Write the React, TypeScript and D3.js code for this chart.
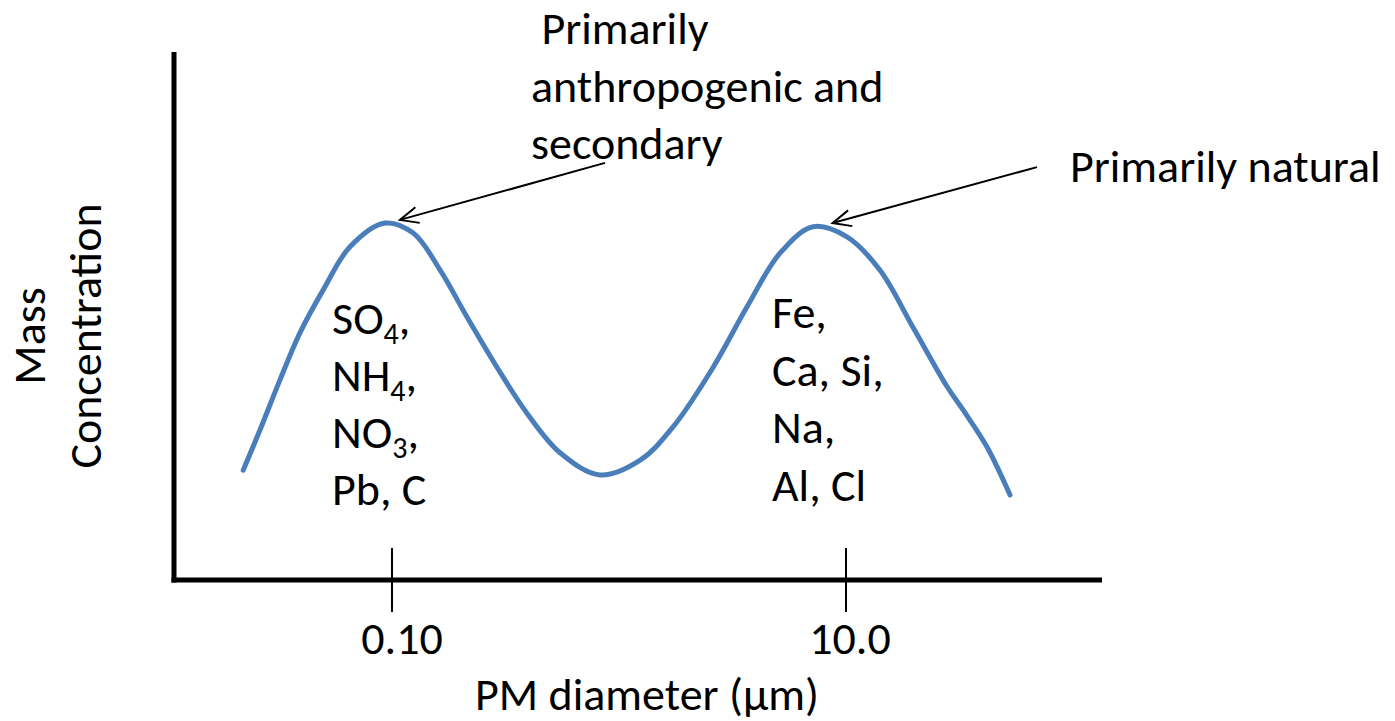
import React, { useEffect, useRef } from 'react';
import * as d3 from 'd3';

// PM diameter (um) and relative mass concentration
const diameters = [
  0.0221, 0.0262, 0.0321, 0.0393, 0.0497, 0.0653, 0.0932, 0.124, 0.163, 0.214,
  0.29, 0.393, 0.55, 0.825, 1.24, 1.73, 2.6, 3.66, 5.12, 7.16, 10.1, 14.1, 19.7,
  27.9, 32.8, 41.8, 52.8,
];
const concentrations = [
  20.8, 28.4, 37.9, 46.8, 54.9, 63.1, 67.6, 65.7, 58.7, 49.8, 40.3, 31.6, 24.1,
  19.9, 22.7, 29.0, 40.3, 51.7, 61.9, 66.9, 65.0, 58.7, 47.9, 36.6, 32.2, 25.2,
  16.1,
];

const tickValues = [0.1, 10];
const tickLabels = ['0.10', '10.0'];

const fineSpecies = [
  { base: 'SO', sub: '4', tail: ',' },
  { base: 'NH', sub: '4', tail: ',' },
  { base: 'NO', sub: '3', tail: ',' },
  { base: 'Pb, C', sub: '', tail: '' },
];
const coarseSpecies = ['Fe,', 'Ca, Si,', 'Na,', 'Al, Cl'];

const fineNote = [' Primarily', 'anthropogenic and', 'secondary'];
const coarseNote = 'Primarily natural';

// arrow start / tip as [diameter, concentration]
const fineArrow = [[0.868, 79.0], [0.1084, 68.2]];
const coarseArrow = [[69.4, 78.2], [8.73, 67.6]];

const FONT = 'Carlito, Calibri, Lato, sans-serif';

const App = () => {
  const ref = useRef<SVGSVGElement>(null);

  useEffect(() => {
    document.body.style.margin = '0';
    draw();
  }, []);

  const draw = () => {
    const svg = d3.select(ref.current);
    svg.selectAll('*').remove();

    const x = d3.scaleLog().domain([0.1, 10]).range([392, 846]);
    const y = d3.scaleLinear().domain([0, 100]).range([580, 52]);

    const left = 174;
    const right = 1102;

    // axes
    svg.append('line')
      .attr('x1', left).attr('x2', left)
      .attr('y1', y(100)).attr('y2', y(0) + 2.5)
      .attr('stroke', '#000').attr('stroke-width', 5);
    svg.append('line')
      .attr('x1', left - 2.5).attr('x2', right)
      .attr('y1', y(0)).attr('y2', y(0))
      .attr('stroke', '#000').attr('stroke-width', 5);

    tickValues.forEach((v, i) => {
      svg.append('line')
        .attr('x1', x(v)).attr('x2', x(v))
        .attr('y1', y(0) - 32).attr('y2', y(0) + 32)
        .attr('stroke', '#000').attr('stroke-width', 2);
      svg.append('text')
        .attr('x', x(v) + (i === 0 ? 10 : 4))
        .attr('y', 654)
        .attr('text-anchor', 'middle')
        .attr('font-family', FONT)
        .attr('font-size', 46)
        .text(tickLabels[i]);
    });

    svg.append('text')
      .attr('x', 647).attr('y', 710)
      .attr('text-anchor', 'middle')
      .attr('font-family', FONT).attr('font-size', 46)
      .text('PM diameter (\u03bcm)');

    const yl = svg.append('g').attr('transform', 'translate(0,336) rotate(-90)');
    yl.append('text')
      .attr('x', 0).attr('y', 45)
      .attr('text-anchor', 'middle')
      .attr('font-family', FONT).attr('font-size', 46)
      .text('Mass');
    yl.append('text')
      .attr('x', 0).attr('y', 101)
      .attr('text-anchor', 'middle')
      .attr('font-family', FONT).attr('font-size', 46)
      .text('Concentration');

    // size distribution curve
    const pts: [number, number][] = diameters.map((d, i) => [d, concentrations[i]]);
    const line = d3.line<[number, number]>()
      .x((d) => x(d[0]))
      .y((d) => y(d[1]))
      .curve(d3.curveCatmullRom.alpha(0.5));
    svg.append('path')
      .attr('d', line(pts))
      .attr('fill', 'none')
      .attr('stroke', '#4a7ebb')
      .attr('stroke-width', 5)
      .attr('stroke-linecap', 'round');

    // species lists
    fineSpecies.forEach((s, i) => {
      const t = svg.append('text')
        .attr('x', 332).attr('y', 334 + i * 57)
        .attr('font-family', FONT).attr('font-size', 46);
      t.append('tspan').text(s.base);
      if (s.sub) {
        t.append('tspan').attr('font-size', 30).attr('dy', 10).text(s.sub);
        t.append('tspan').attr('dy', -10).text(s.tail);
      }
    });
    coarseSpecies.forEach((s, i) => {
      svg.append('text')
        .attr('x', 772).attr('y', 328 + i * 57.5)
        .attr('font-family', FONT).attr('font-size', 46)
        .text(s);
    });

    // annotations
    fineNote.forEach((s, i) => {
      svg.append('text')
        .attr('x', 531).attr('y', 44 + i * 57.5)
        .attr('font-family', FONT).attr('font-size', 46)
        .attr('xml:space', 'preserve')
        .style('white-space', 'pre')
        .text(s);
    });
    svg.append('text')
      .attr('x', 1070).attr('y', 182)
      .attr('font-family', FONT).attr('font-size', 46)
      .text(coarseNote);

    const arrow = (a: number[][]) => {
      const x1 = x(a[0][0]), y1 = y(a[0][1]);
      const x2 = x(a[1][0]), y2 = y(a[1][1]);
      svg.append('line')
        .attr('x1', x1).attr('y1', y1).attr('x2', x2).attr('y2', y2)
        .attr('stroke', '#000').attr('stroke-width', 2);
      const ang = Math.atan2(y1 - y2, x1 - x2);
      const len = 20;
      const spread = 0.42;
      const p1 = [x2 + len * Math.cos(ang + spread), y2 + len * Math.sin(ang + spread)];
      const p2 = [x2 + len * Math.cos(ang - spread), y2 + len * Math.sin(ang - spread)];
      svg.append('path')
        .attr('d', `M${p1[0]},${p1[1]}L${x2},${y2}L${p2[0]},${p2[1]}`)
        .attr('fill', 'none')
        .attr('stroke', '#000')
        .attr('stroke-width', 2);
    };
    arrow(fineArrow);
    arrow(coarseArrow);
  };

  return <svg ref={ref} width={1395} height={721} style={{ display: 'block', background: '#fff' }} />;
};

export default App;
